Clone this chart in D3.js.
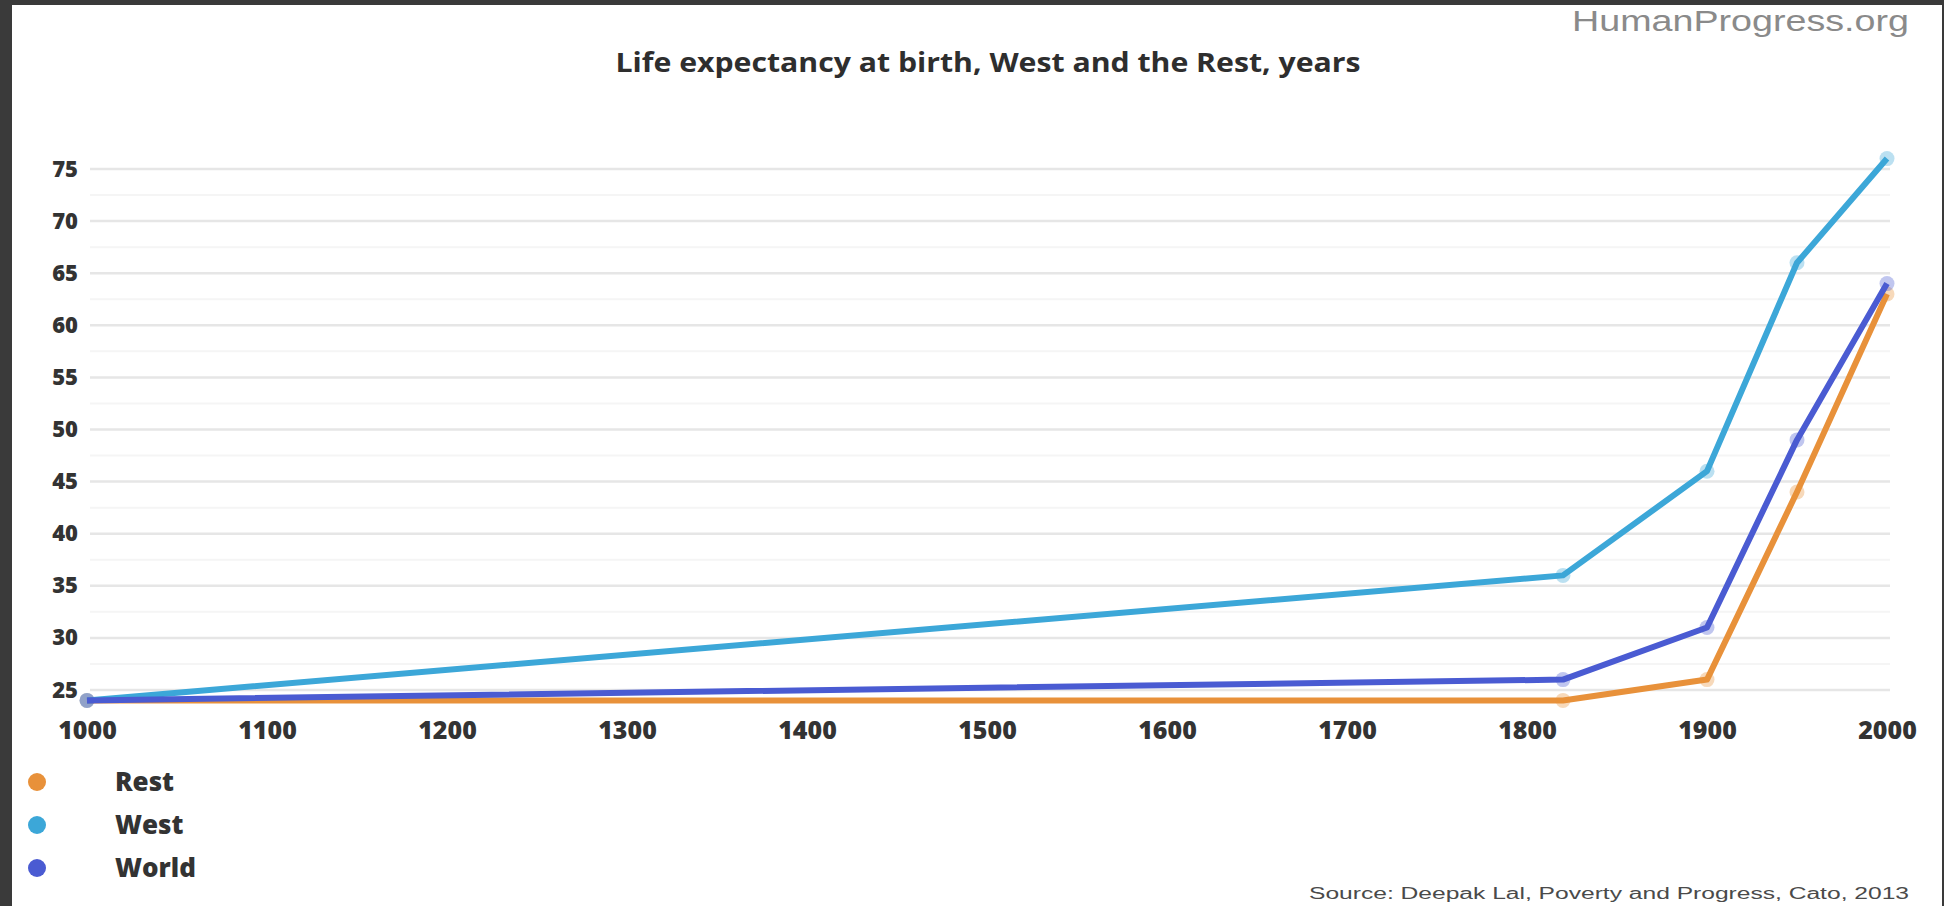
<!DOCTYPE html>
<html>
<head>
<meta charset="utf-8">
<script src="https://cdn.jsdelivr.net/npm/d3@7"></script>
<style>
  html, body { margin: 0; padding: 0; background: #3a3a3a; }
  svg { display: block; }
</style>
</head>
<body>
<svg id="chart" width="1944" height="906"></svg>
<script>
// Life expectancy at birth (years)
const years = [1000, 1820, 1900, 1950, 2000];
const rest  = [24, 24, 26, 44, 63];
const west  = [24, 36, 46, 66, 76];
const world = [24, 26, 31, 49, 64];

const seriesNames  = ["Rest", "West", "World"];
const seriesColors = ["#e8913a", "#3ca7d8", "#4a5bd2"];
const seriesValues = [rest, west, world];

const xTicks = [1000, 1100, 1200, 1300, 1400, 1500, 1600, 1700, 1800, 1900, 2000];
const yTicks = [25, 30, 35, 40, 45, 50, 55, 60, 65, 70, 75];
const yMinorTicks = [27.5, 32.5, 37.5, 42.5, 47.5, 52.5, 57.5, 62.5, 67.5, 72.5];

const titleText = "Life expectancy at birth, West and the Rest, years";
const brandText = "HumanProgress.org";
const sourceText = "Source: Deepak Lal, Poverty and Progress, Cato, 2013";

const svg = d3.select("#chart");

// white card with a thin dark frame
svg.append("rect").attr("x", 12).attr("y", 5).attr("width", 1930).attr("height", 901).attr("fill", "#ffffff");

const x = d3.scaleLinear().domain([1000, 2000]).range([87, 1887]);
const y = d3.scaleLinear().domain([25, 75]).range([690, 169]);

const gridLeft = 90, gridRight = 1890;

// minor and major gridlines
svg.append("g").selectAll("line").data(yMinorTicks).join("line")
  .attr("x1", gridLeft).attr("x2", gridRight)
  .attr("y1", d => y(d)).attr("y2", d => y(d))
  .attr("stroke", "#f5f5f5").attr("stroke-width", 2);

svg.append("g").selectAll("line").data(yTicks).join("line")
  .attr("x1", gridLeft).attr("x2", gridRight)
  .attr("y1", d => y(d)).attr("y2", d => y(d))
  .attr("stroke", "#e6e6e6").attr("stroke-width", 2.5);

// y axis labels
const yAxis = d3.axisLeft(y).tickValues(yTicks).tickSize(0).tickPadding(0);
const yG = svg.append("g").attr("transform", "translate(78,0)").call(yAxis);
yG.select(".domain").remove();
yG.selectAll("text")
  .attr("font-family", "'Open Sans', sans-serif").attr("font-weight", 800)
  .attr("font-size", 22).attr("fill", "#333333");

// x axis labels
const xAxis = d3.axisBottom(x).tickValues(xTicks).tickFormat(d3.format("d")).tickSize(0).tickPadding(0);
const xG = svg.append("g").attr("transform", "translate(0,721)").call(xAxis);
xG.select(".domain").remove();
xG.selectAll("text")
  .attr("font-family", "'Open Sans', sans-serif").attr("font-weight", 800)
  .attr("font-size", 25).attr("fill", "#333333");

// series lines and point markers
const line = d3.line().x(d => x(d[0])).y(d => y(d[1]));
seriesValues.forEach((vals, i) => {
  const pts = years.map((yr, k) => [yr, vals[k]]);
  svg.append("path").datum(pts)
    .attr("d", line)
    .attr("fill", "none")
    .attr("stroke", seriesColors[i])
    .attr("stroke-width", 6)
    .attr("stroke-linejoin", "round");
  svg.append("g").selectAll("circle").data(pts).join("circle")
    .attr("cx", d => x(d[0])).attr("cy", d => y(d[1]))
    .attr("r", 7.5)
    .attr("fill", seriesColors[i]).attr("fill-opacity", 0.35);
});

// title
svg.append("text")
  .attr("x", 988).attr("y", 72)
  .attr("text-anchor", "middle")
  .attr("font-family", "'Open Sans', sans-serif").attr("font-weight", 700)
  .attr("font-size", 26).attr("fill", "#2e2e2e")
  .attr("textLength", 745).attr("lengthAdjust", "spacingAndGlyphs")
  .text(titleText);

// brand mark
svg.append("text")
  .attr("x", 1909).attr("y", 31)
  .attr("text-anchor", "end")
  .attr("font-family", "'Liberation Sans', Arial, sans-serif")
  .attr("font-size", 30).attr("fill", "#8a8a8a")
  .attr("textLength", 337).attr("lengthAdjust", "spacingAndGlyphs")
  .text(brandText);

// legend
const legend = svg.append("g");
seriesNames.forEach((name, i) => {
  const cy = 782 + i * 43;
  legend.append("circle").attr("cx", 37).attr("cy", cy).attr("r", 9).attr("fill", seriesColors[i]);
  legend.append("text")
    .attr("x", 115).attr("y", cy + 9)
    .attr("font-family", "'Open Sans', sans-serif").attr("font-weight", 800)
    .attr("font-size", 26).attr("fill", "#333333")
    .text(name);
});

// source note
svg.append("text")
  .attr("x", 1909).attr("y", 899)
  .attr("text-anchor", "end")
  .attr("font-family", "'Liberation Sans', Arial, sans-serif")
  .attr("font-size", 16).attr("fill", "#4a4a4a")
  .attr("textLength", 600).attr("lengthAdjust", "spacingAndGlyphs")
  .text(sourceText);
</script>
</body>
</html>
